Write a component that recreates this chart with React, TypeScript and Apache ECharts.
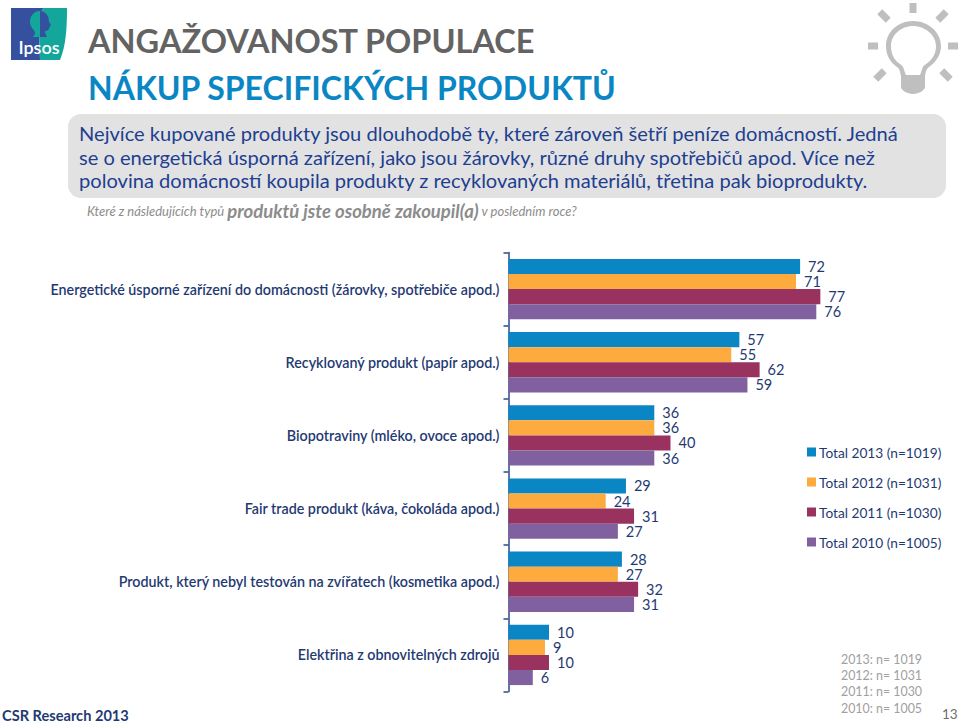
import React, { useEffect, useRef } from "react";
import * as echarts from "echarts";

const categories = [
  "Energetické úsporné zařízení do domácnosti (žárovky, spotřebiče apod.)",
  "Recyklovaný produkt (papír apod.)",
  "Biopotraviny (mléko, ovoce apod.)",
  "Fair trade produkt (káva, čokoláda apod.)",
  "Produkt, který nebyl testován na zvířatech (kosmetika apod.)",
  "Elektřina z obnovitelných zdrojů",
];
const total2013 = [72, 57, 36, 29, 28, 10];
const total2012 = [71, 55, 36, 24, 27, 9];
const total2011 = [77, 62, 40, 31, 32, 10];
const total2010 = [76, 59, 36, 27, 31, 6];
const seriesNames = [
  "Total 2013 (n=1019)",
  "Total 2012 (n=1031)",
  "Total 2011 (n=1030)",
  "Total 2010 (n=1005)",
];
const seriesColors = ["#0A86C4", "#FDAB3E", "#9A3260", "#80609F"];
const bannerLines = [
  "Nejvíce kupované produkty jsou dlouhodobě ty, které zároveň šetří peníze domácností. Jedná",
  "se o energetická úsporná zařízení, jako jsou žárovky, různé druhy spotřebičů apod. Více než",
  "polovina domácností koupila produkty z recyklovaných materiálů, třetina pak bioprodukty.",
];
const sampleLines = ["2013: n= 1019", "2012: n= 1031", "2011: n= 1030", "2010: n= 1005"];

const FONT = "Lato";
const NAVY = "#1F3A73";

echarts.graphic.registerShape(
  "ipsosBlue",
  echarts.graphic.extendPath("M11 8 L44 8 C38 14 38 20 40 26 C38 36 40 46 40 60 L11 60 Z", {})
);
echarts.graphic.registerShape(
  "ipsosTeal",
  echarts.graphic.extendPath("M44 8 L67 8 C67 28 66 46 60 60 L40 60 C40 46 38 36 40 26 C38 20 38 14 44 8 Z", {})
);
echarts.graphic.registerShape(
  "ipsosHair",
  echarts.graphic.extendPath("M40 11 C33 11 30 17 30 22 C30 28 35 30 35 33 C35 35 33 36 33 37 L40 37 L40 11 Z", {})
);
echarts.graphic.registerShape(
  "ipsosFace",
  echarts.graphic.extendPath("M40 11 L40 37 L47 37 C46 35 45 33 45 31 C48 31 49 30 49 28 L51 25 L49 22 C49 15 45 11 40 11 Z", {})
);
echarts.graphic.registerShape(
  "bulb",
  echarts.graphic.extendPath(
    "M913 21 C898 21 886 32 886 46 C886 55 890 62 897 67 C900 69 900 72 901 76 L901 87 C901 90 907 94 913 94 C919 94 925 90 925 87 L925 76 C926 72 926 69 929 67 C936 62 941 55 941 46 C941 32 928 21 913 21 Z M913 26 C925 26 936 35 936 46 C936 54 932 60 926 64 C922 66 922 71 920 75 L906 75 C904 71 904 66 900 64 C894 60 891 54 891 46 C891 35 901 26 913 26 Z",
    {}
  )
);

const gray = "#BFBFBF";
const ray = (cx: number, cy: number, w: number, h: number, rot: number) => ({
  type: "rect",
  x: cx,
  y: cy,
  rotation: rot,
  shape: { x: -w / 2, y: -h / 2, width: w, height: h },
  style: { fill: gray },
});

export default function App() {
  const ref = useRef<HTMLDivElement>(null);
  useEffect(() => {
    document.body.style.margin = "0";
    const chart = echarts.init(ref.current!, undefined, { renderer: "svg" });
    const data = [total2013, total2012, total2011, total2010];
    chart.setOption({
      animation: false,
      backgroundColor: "#ffffff",
      textStyle: { fontFamily: FONT },
      grid: { left: 508.5, top: 252.5, width: 405, height: 439, containLabel: false },
      xAxis: { type: "value", min: 0, max: 100, show: false },
      yAxis: {
        type: "category",
        inverse: true,
        data: categories,
        axisLine: { show: true, lineStyle: { color: "#2B4A8B", width: 1.5 } },
        axisTick: { show: true, length: 5, lineStyle: { color: "#2B4A8B", width: 1.5 } },
        axisLabel: {
          color: NAVY,
          fontFamily: FONT,
          fontSize: 14.3,
          fontWeight: 600,
          margin: 9,
          interval: 0,
        },
      },
      legend: {
        orient: "vertical",
        left: 807,
        top: 445,
        itemWidth: 9,
        itemHeight: 9,
        itemGap: 16,
        icon: "rect",
        selectedMode: false,
        textStyle: { color: NAVY, fontFamily: FONT, fontSize: 13.7, padding: [0, 0, 0, -2] },
        padding: 0,
      },
      series: seriesNames.map((name, i) => ({
        name,
        type: "bar",
        data: data[i],
        barGap: 0,
        barCategoryGap: "17.5%",
        itemStyle: { color: seriesColors[i] },
        label: {
          show: true,
          position: "right",
          distance: 8,
          color: NAVY,
          fontFamily: FONT,
          fontSize: 14.5,
        },
      })),
      graphic: [
        { type: "ipsosBlue", style: { fill: "#34509F" } },
        { type: "ipsosTeal", style: { fill: "#12A79A" } },
        { type: "ipsosHair", style: { fill: "#12A79A" } },
        { type: "ipsosFace", style: { fill: "#34509F" } },
        {
          type: "text",
          x: 39,
          y: 47,
          style: { text: "Ipsos", fill: "#ffffff", font: `600 18px ${FONT}`, align: "center", verticalAlign: "middle" },
        },
        {
          type: "text",
          x: 88,
          y: 40,
          style: { text: "ANGAŽOVANOST POPULACE", fill: "#636363", font: `700 32.5px ${FONT}`, verticalAlign: "middle" },
        },
        {
          type: "text",
          x: 88,
          y: 87,
          style: { text: "NÁKUP SPECIFICKÝCH PRODUKTŮ", fill: "#0A86C4", font: `700 32px ${FONT}`, verticalAlign: "middle" },
        },
        ray(913, 8, 7, 10, 0),
        ray(884, 16, 7, 12, Math.PI / 4),
        ray(942, 16, 7, 12, -Math.PI / 4),
        ray(873, 46, 10, 7, 0),
        ray(953, 46, 10, 7, 0),
        ray(880, 75, 7, 12, -Math.PI / 4),
        ray(946, 75, 7, 12, Math.PI / 4),
        { type: "bulb", style: { fill: gray } },
        {
          type: "rect",
          shape: { x: 68, y: 114, width: 878, height: 84, r: 13 },
          style: { fill: "#E2E2E3" },
        },
        ...bannerLines.map((t, i) => ({
          type: "text",
          x: 79,
          y: 133 + i * 23.5,
          style: { text: t, fill: "#1E3F8F", font: `20.1px ${FONT}`, verticalAlign: "middle" },
        })),
        {
          type: "text",
          x: 87,
          y: 211,
          style: {
            text: "{a|Které z následujících typů }{b|produktů jste osobně zakoupil(a)}{a| v posledním roce?}",
            verticalAlign: "middle",
            rich: {
              a: { fill: "#8C8C8C", font: `italic 13px ${FONT}` },
              b: { fill: "#8C8C8C", font: `italic 700 18.5px ${FONT}` },
            },
          },
        },
        {
          type: "text",
          x: 2,
          y: 715,
          style: { text: "CSR Research 2013", fill: NAVY, font: `700 14.6px ${FONT}`, verticalAlign: "middle" },
        },
        ...sampleLines.map((t, i) => ({
          type: "text",
          x: 841,
          y: 659.5 + i * 16.2,
          style: { text: t, fill: "#A0A0A0", font: `12.4px ${FONT}`, verticalAlign: "middle" },
        })),
        {
          type: "text",
          x: 942,
          y: 714,
          style: { text: "13", fill: "#6E6E6E", font: `13.5px ${FONT}`, verticalAlign: "middle" },
        },
      ],
    });
    return () => chart.dispose();
  }, []);
  return <div ref={ref} style={{ width: 960, height: 725 }} />;
}
